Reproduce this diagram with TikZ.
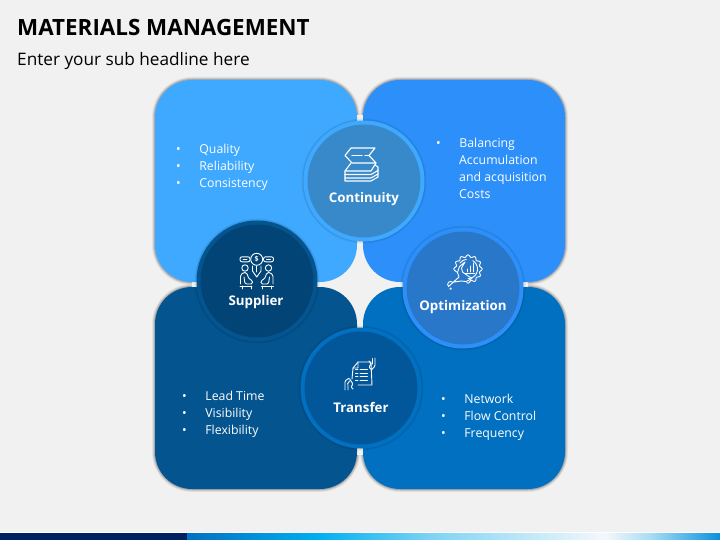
\documentclass[tikz,border=0pt]{standalone}
\usepackage{fontspec}
\setmainfont{Open Sans}
\usetikzlibrary{positioning}
\definecolor{pagegrey}{HTML}{F1F1F1}
\definecolor{tileA}{HTML}{3FA9FF}
\definecolor{tileB}{HTML}{2D90FA}
\definecolor{tileC}{HTML}{04548F}
\definecolor{tileD}{HTML}{0270C0}
\definecolor{discA}{HTML}{3889C9}
\definecolor{discB}{HTML}{024476}
\definecolor{discC}{HTML}{2877C9}
\definecolor{discD}{HTML}{02569A}
\definecolor{navy}{HTML}{002060}
\definecolor{bandA}{HTML}{00B0F0}
\definecolor{bandB}{HTML}{7DD3F5}
\definecolor{bandC}{HTML}{F5F8FB}
\definecolor{bandD}{HTML}{A8DDF5}
\definecolor{bandE}{HTML}{0A90DC}
\newcommand{\lst}[1]{\makebox[20pt][l]{•}#1}
\newcommand{\ind}{\hspace*{23pt}}
\tikzset{
  tileglow/.style={rectangle,rounded corners=37pt,minimum size=202pt,inner sep=0pt,preaction={draw=black,draw opacity=.06,line width=6pt},preaction={draw=black,draw opacity=.1,line width=4pt},preaction={draw=black,draw opacity=.16,line width=2pt}},
  tile/.style={rectangle,rounded corners=37pt,minimum size=202pt,inner sep=0pt},
  disc/.style={circle,minimum size=121pt,inner sep=0pt,preaction={draw=black,draw opacity=.05,line width=4pt},preaction={draw=black,draw opacity=.07,line width=2pt}},
  core/.style={circle,minimum size=113pt,inner sep=0pt},
  caption/.style={text=white,font=\fontsize{13.3}{16}\selectfont\bfseries},
  bullets/.style={text=white,align=left,anchor=north west,inner sep=0pt,font=\fontsize{12.3}{17}\selectfont},
  icon/.style={draw=white,line width=.9pt,line join=round,line cap=round}
}
\begin{document}
\begin{tikzpicture}[x=1pt,y=-1pt]
\useasboundingbox (0,0) rectangle (720,540);
\fill[pagegrey] (0,0) rectangle (720,540);
% headline
\node[anchor=base west,inner sep=0pt,font=\fontsize{22.4}{26}\selectfont\bfseries] (title) at (17,36) {MATERIALS MANAGEMENT};
\node[anchor=base west,inner sep=0pt,font=\fontsize{17.2}{20}\selectfont] (subtitle) at (17,66) {Enter your sub headline here};
% tile shadows, outer edges only
\node[tileglow] (glowq) at (256,181) {};
\node[tileglow] (glowb) at (464,181) {};
\node[tileglow] (glowl) at (256,388) {};
\node[tileglow] (glown) at (464,388) {};
\fill[pagegrey] (357,115) rectangle (363,455);
\fill[pagegrey] (192,282) rectangle (528,287);
\fill[pagegrey] (320,245) rectangle (400,325);
% tiles
\node[tile,fill=tileA] (tileq) at (256,181) {};
\node[tile,fill=tileB] (tileb) at (464,181) {};
\node[tile,fill=tileC] (tilel) at (256,388) {};
\node[tile,fill=tileD] (tilen) at (464,388) {};
% lists
\node[bullets] (listq) at (176,143.5) {\lst{\ Quality}\\\lst{\ Reliability}\\\lst{\ Consistency}};
\node[bullets] (listb) at (436,137.5) {\lst{\ Balancing}\\\ind Accumulation\\\ind and acquisition\\\ind Costs};
\node[bullets] (listl) at (182,390.5) {\lst{\ Lead Time}\\\lst{\ Visibility}\\\lst{\ Flexibility}};
\node[bullets] (listn) at (441,393.5) {\lst{\ Network}\\\lst{\ Flow Control}\\\lst{\ Frequency}};
% discs
\node[disc,fill=tileA] (continuity) at (364,181) {};
\node[core,fill=discA] at (continuity) {};
\node[disc,fill=tileC] (supplier) at (257,281) {};
\node[core,fill=discB] at (supplier) {};
\node[disc,fill=tileB] (optimization) at (463,288) {};
\node[core,fill=discC] at (optimization) {};
\node[disc,fill=tileD] (transfer) at (361,388) {};
\node[core,fill=discD] at (transfer) {};
\node[caption] (lblc) at (364,199.5) {Continuity};
\node[caption] (lbls) at (256,302) {Supplier};
\node[caption] (lblo) at (463,307) {Optimization};
\node[caption] (lblt) at (361,407) {Transfer};
% continuity icon
\draw[icon,line width=1.1pt] (345,155.5) -- (351,148) -- (375,148) -- (369,155.5) -- (376,163) -- (352,163) -- cycle;
\draw[icon,line width=1.1pt] (352,155.5) -- (362,155.5) (365,155.5) -- (369,155.5);
\draw[icon,line width=1.1pt] (351,163) -- (345,171) -- (371,171) -- (376,163);
\draw[icon,line width=1.1pt] (345,171) -- (345,181) -- (371,181) -- (378,177) -- (378,167) -- (375,165);
\draw[icon,line width=1.1pt] (345,174.5) -- (371,174.5) -- (378,170.5) (345,178) -- (371,178) -- (378,174);
% supplier icon
\draw[icon] (256.7,259.3) circle (6);
\node[text=white,inner sep=0pt,font=\fontsize{7}{8}\selectfont\bfseries] (coin) at (256.7,259.3) {\$};
\draw[icon] (252.5,266) -- (252.5,271) -- (256.7,277) -- (261,271) -- (261,266);
\draw[icon] (256.7,266) -- (256.7,272);
\draw[icon,rounded corners=2pt] (240,256.8) rectangle (250,261.8);
\draw[icon,rounded corners=2pt] (263.5,256.8) rectangle (273.5,261.8);
\draw[icon] (243,259.3) -- (247,259.3) (266.5,259.3) -- (270.5,259.3);
\foreach \side/\head in {1/245,-1/268.5}{
  \begin{scope}[shift={(\head,0)},xscale=\side]
    \draw[icon] (0,268) circle (3.2);
    \draw[icon,rounded corners=1.5pt] (-4.5,284) -- (-4.5,275) -- (-1.5,272.5) -- (1.5,272.5) -- (4,279) -- (7.5,280.5) -- (7.5,284) -- (0,284) -- (-1,277);
    \draw[icon] (-5,286) -- (7,286) (-3,286) -- (-3,289) (6,286) -- (6,289);
  \end{scope}
}
% optimization icon
\draw[icon,smooth] plot[domain=165:455,samples=150] ({468+(13+1.1*cos(12*\x))*cos(\x)},{269+(13+1.1*cos(12*\x))*sin(\x)});
\draw[icon,smooth] plot[domain=-60:90,samples=30] ({468+9.5*cos(\x)},{269+9.5*sin(\x)});
\draw[icon] (460,263) arc[start angle=217,end angle=262,radius=9.5];
\draw[icon] (467,272) -- (467,269) (470,272) -- (470,266) (473,272) -- (473,263) (465,273.5) -- (475,273.5);
\draw[icon] (465,262) -- (459.5,266.5) -- (457.5,272.5) -- (459,277) -- (448.5,286.5) arc[start angle=135,end angle=315,radius=3] -- (461,281) -- (466,281.5) -- (472,278.5) -- (466,274.5) -- (462.5,272) -- (461.5,268) -- cycle;
\draw[icon] (450.6,288.6) circle (.7);
% transfer icon
\draw[icon] (353,368) -- (358,362) -- (371,362) -- (372,385) -- (358,385);
\draw[icon] (353,368) -- (358,368) -- (358,362) (353,368) -- (352,379);
\foreach \y in {369.5,373,376.5,380}{
  \draw[icon] (355.5,\y) -- (358,\y) (360,\y) -- (367.5,\y);
}
\draw[icon,rounded corners=1pt] (375,358) -- (375,366) -- (371.5,370) -- (369,367) -- (371,364) -- (369,361);
\draw[icon] (372,358.5) -- (372,364);
\draw[icon,rounded corners=1pt] (345,390) -- (345,381) -- (349,378) -- (353,384) -- (351,387) -- (353,389);
\draw[icon] (348,390) -- (348,385) (349.5,381) -- (347.5,384);
% footer band
\fill[white] (0,532) rectangle (720,533);
\fill[navy] (0,533) rectangle (187,540);
\shade[left color=tileD,right color=bandA] (187,533) rectangle (320,540);
\shade[left color=bandA,right color=bandB] (320,533) rectangle (430,540);
\shade[left color=bandB,right color=bandC] (430,533) rectangle (605,540);
\shade[left color=bandC,right color=bandD] (605,533) rectangle (650,540);
\shade[left color=bandD,right color=bandE] (650,533) rectangle (720,540);
\end{tikzpicture}
\end{document}
